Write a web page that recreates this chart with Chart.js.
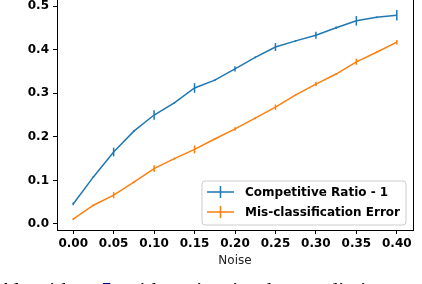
<!DOCTYPE html>
<html>
<head>
<meta charset="utf-8">
<script src="https://cdn.jsdelivr.net/npm/chart.js@4/dist/chart.umd.min.js"></script>
<style>
	html, body { margin: 0; padding: 0; background: #fff; }
	body { width: 422px; height: 284px; overflow: hidden; position: relative; }
	#wrap { position: absolute; left: 0; top: 0; width: 422px; height: 284px; }
	#caption {
		position: absolute; left: -2px; top: 279px; white-space: nowrap;
		font-family: "Liberation Serif", serif; font-size: 22px; line-height: 22px;
		word-spacing: 6px; color: #000;
	}
	#caption .ref { color: #00008b; }
</style>
</head>
<body>
<div id="wrap"><canvas id="chart" width="422" height="284"></canvas></div>
<div id="caption">Algorithm <span class="ref">5</span> with noise in the predictions against with T</div>
<script>
// data
var noise = [0.000, 0.025, 0.050, 0.075, 0.100, 0.125, 0.150, 0.175, 0.200, 0.225, 0.250, 0.275, 0.300, 0.325, 0.350, 0.375, 0.400];
var compRatio = [0.046, 0.108, 0.165, 0.213, 0.250, 0.278, 0.312, 0.330, 0.356, 0.382, 0.406, 0.420, 0.433, 0.450, 0.466, 0.474, 0.479];
var compErr = [0.003, 0.002, 0.010, 0.002, 0.011, 0.002, 0.011, 0.002, 0.006, 0.002, 0.009, 0.002, 0.008, 0.003, 0.011, 0.002, 0.012];
var misclass = [0.011, 0.043, 0.066, 0.096, 0.127, 0.150, 0.171, 0.195, 0.218, 0.243, 0.268, 0.296, 0.321, 0.344, 0.372, 0.394, 0.417];
var misErr = [0.002, 0.002, 0.007, 0.002, 0.008, 0.002, 0.009, 0.002, 0.004, 0.002, 0.006, 0.002, 0.005, 0.002, 0.007, 0.002, 0.005];
var seriesNames = ['Competitive Ratio - 1', 'Mis-classification Error'];
var xTicks = [0.00, 0.05, 0.10, 0.15, 0.20, 0.25, 0.30, 0.35, 0.40];
var yTicks = [0.0, 0.1, 0.2, 0.3, 0.4, 0.5];
var xLabel = 'Noise';

var blue = '#1f77b4';
var orange = '#ff7f0e';
var tickFont = { family: 'DejaVu Sans', size: 12, weight: 'bold' };

function points(ys) {
	return noise.map(function(x, i) { return { x: x, y: ys[i] }; });
}

// vertical error bars, drawn through the y scale
var errorBars = {
	id: 'errorBars',
	afterDatasetsDraw: function(chart) {
		var ctx = chart.ctx;
		var yScale = chart.scales.y;
		chart.data.datasets.forEach(function(ds, d) {
			var meta = chart.getDatasetMeta(d);
			ctx.save();
			ctx.strokeStyle = ds.borderColor;
			ctx.lineWidth = 1.5;
			meta.data.forEach(function(pt, i) {
				var v = ds.data[i].y, e = ds.errors[i];
				ctx.beginPath();
				ctx.moveTo(pt.x, yScale.getPixelForValue(v - e));
				ctx.lineTo(pt.x, yScale.getPixelForValue(v + e));
				ctx.stroke();
			});
			ctx.restore();
		});
	}
};

// right spine and matplotlib-like legend box
var frame = {
	id: 'frame',
	afterDraw: function(chart) {
		var ctx = chart.ctx;
		var a = chart.chartArea;
		ctx.save();
		ctx.strokeStyle = '#000';
		ctx.lineWidth = 1;
		ctx.beginPath();
		ctx.moveTo(a.right + 0.5, a.top);
		ctx.lineTo(a.right + 0.5, a.bottom);
		ctx.stroke();

		ctx.font = 'bold 12px "DejaVu Sans"';
		var maxW = 0;
		seriesNames.forEach(function(s) { maxW = Math.max(maxW, ctx.measureText(s).width); });
		var right = a.right - 7, bottom = a.bottom - 5;
		var textX = right - 6 - maxW;
		var left = textX - 43, top = bottom - 44;
		var r = 3;
		ctx.beginPath();
		ctx.moveTo(left + r, top);
		ctx.arcTo(right, top, right, bottom, r);
		ctx.arcTo(right, bottom, left, bottom, r);
		ctx.arcTo(left, bottom, left, top, r);
		ctx.arcTo(left, top, right, top, r);
		ctx.closePath();
		ctx.fillStyle = 'rgba(255,255,255,0.8)';
		ctx.fill();
		ctx.strokeStyle = '#cccccc';
		ctx.stroke();

		chart.data.datasets.forEach(function(ds, i) {
			var cy = top + 11 + i * 20;
			var hx0 = left + 5, hx1 = left + 32, hm = (hx0 + hx1) / 2;
			ctx.strokeStyle = ds.borderColor;
			ctx.lineWidth = 1.5;
			ctx.beginPath();
			ctx.moveTo(hx0, cy); ctx.lineTo(hx1, cy);
			ctx.moveTo(hm, cy - 6); ctx.lineTo(hm, cy + 6);
			ctx.stroke();
			ctx.fillStyle = '#000';
			ctx.textBaseline = 'middle';
			ctx.fillText(ds.label, textX, cy + 1);
		});
		ctx.restore();
	}
};

new Chart(document.getElementById('chart'), {
	type: 'line',
	data: {
		datasets: [
			{ label: seriesNames[0], data: points(compRatio), errors: compErr, borderColor: blue, backgroundColor: blue, borderWidth: 1.5, pointRadius: 0, tension: 0 },
			{ label: seriesNames[1], data: points(misclass), errors: misErr, borderColor: orange, backgroundColor: orange, borderWidth: 1.5, pointRadius: 0, tension: 0 }
		]
	},
	options: {
		responsive: false,
		animation: false,
		layout: { padding: { left: 0, top: 0, right: 9, bottom: 16 } },
		plugins: { legend: { display: false }, tooltip: { enabled: false } },
		scales: {
			x: {
				type: 'linear', min: -0.02, max: 0.42,
				afterBuildTicks: function(s) { s.ticks = xTicks.map(function(v) { return { value: v }; }); },
				afterFit: function(s) { s.height = 38; s.paddingLeft = 0; s.paddingRight = 0; },
				ticks: { font: tickFont, color: '#000', padding: 3, maxRotation: 0, autoSkip: false,
					callback: function(v) { return v.toFixed(2); } },
				grid: { display: true, drawOnChartArea: false, drawTicks: true, tickLength: 4, color: '#000' },
				border: { display: true, color: '#000', width: 1 },
				title: { display: true, text: xLabel, color: '#222', font: { family: 'DejaVu Sans', size: 12 }, padding: { top: 2, bottom: 0 } }
			},
			y: {
				type: 'linear', min: -0.0138, max: 0.5138,
				afterBuildTicks: function(s) { s.ticks = yTicks.map(function(v) { return { value: v }; }); },
				afterFit: function(s) { s.width = 57; s.paddingTop = 0; s.paddingBottom = 0; },
				ticks: { font: tickFont, color: '#000', padding: 4,
					callback: function(v) { return v.toFixed(1); } },
				grid: { display: true, drawOnChartArea: false, drawTicks: true, tickLength: 4, color: '#000' },
				border: { display: true, color: '#000', width: 1 }
			}
		}
	},
	plugins: [errorBars, frame]
});
</script>
</body>
</html>
